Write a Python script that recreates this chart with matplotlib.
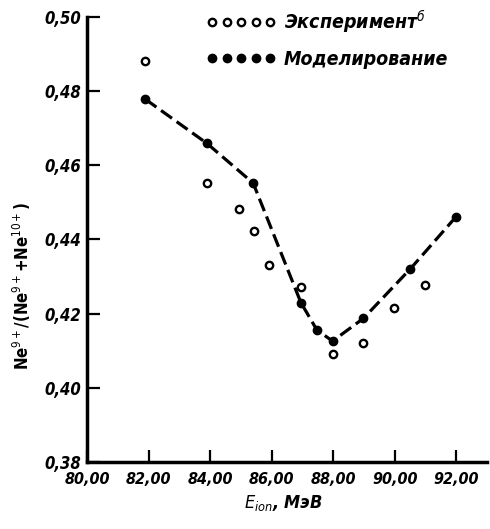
import matplotlib
matplotlib.use('Agg')
import matplotlib.pyplot as plt
from matplotlib.ticker import FuncFormatter

plt.rcParams['font.family'] = ['DejaVu Sans']
plt.rcParams['font.stretch'] = 'condensed'
plt.rcParams['mathtext.fontset'] = 'dejavusans'

# Моделирование (сплошные точки, соединены штриховой линией)
sim_e = [81.9, 83.9, 85.4, 86.95, 87.47, 87.98, 88.98, 90.5, 91.98]
sim_ratio = [0.4778, 0.4659, 0.4552, 0.4230, 0.4156, 0.4126, 0.4187, 0.4320, 0.4460]

# Эксперимент (открытые точки)
exp_e = [81.9, 83.9, 84.93, 85.42, 85.93, 86.95, 87.98, 88.98, 89.99, 90.99]
exp_ratio = [0.4881, 0.4552, 0.4481, 0.4423, 0.4331, 0.4273, 0.4091, 0.4122, 0.4214, 0.4276]

x_ticks = [80, 82, 84, 86, 88, 90, 92]
y_ticks = [0.38, 0.40, 0.42, 0.44, 0.46, 0.48, 0.50]

fig = plt.figure(figsize=(4.9, 5.29), dpi=100)
ax = fig.add_axes([0.1776, 0.1267, 0.8163, 0.8412])

ax.plot(sim_e, sim_ratio, color='black', linestyle=(0, (4.2, 1.8)), linewidth=2.3,
        zorder=2)
ax.plot(sim_e, sim_ratio, linestyle='none', marker='o', markersize=6,
        color='black', label='Моделирование', zorder=3)
ax.plot(exp_e, exp_ratio, linestyle='none', marker='o', markersize=5.3,
        markerfacecolor='white', markeredgecolor='black', markeredgewidth=1.7,
        label='Эксперимент$^{б}$', zorder=4)

ax.set_xlim(80, 93)
ax.set_ylim(0.38, 0.50)
ax.set_xticks(x_ticks)
ax.set_yticks(y_ticks)
ax.xaxis.set_major_formatter(FuncFormatter(lambda v, p: f'{v:.2f}'.replace('.', ',')))
ax.yaxis.set_major_formatter(FuncFormatter(lambda v, p: f'{v:.2f}'.replace('.', ',')))

for s in ['top', 'right']:
    ax.spines[s].set_visible(False)
for s in ['left', 'bottom']:
    ax.spines[s].set_linewidth(2.5)

ax.tick_params(direction='in', length=9, width=1.6, pad=4)
ax.tick_params(axis='x', pad=7)
for lbl in ax.get_xticklabels():
    lbl.set_fontsize(11.5)
for lbl in ax.get_yticklabels():
    lbl.set_fontsize(12)
for lbl in ax.get_xticklabels() + ax.get_yticklabels():
    lbl.set_fontweight('bold')
    lbl.set_fontstyle('italic')

ax.set_ylabel('Ne$^{9+}$/(Ne$^{9+}$+Ne$^{10+}$)', fontsize=12, fontweight='bold')
ax.yaxis.set_label_coords(-0.135, 0.395)
ax.set_xlabel('$\\mathit{E_{ion}}$, МэВ', fontsize=13, fontweight='bold',
              fontstyle='italic')
ax.xaxis.set_label_coords(0.49, -0.07)

handles, labels = ax.get_legend_handles_labels()
leg = ax.legend(handles[::-1], labels[::-1], loc='upper left',
                bbox_to_anchor=(0.298, 1.02), frameon=False, numpoints=5,
                handlelength=3.6, handletextpad=0.4, labelspacing=0.75,
                borderpad=0, borderaxespad=0,
                prop={'size': 14, 'weight': 'bold', 'style': 'italic'})

fig.savefig('out.png', dpi=100)
